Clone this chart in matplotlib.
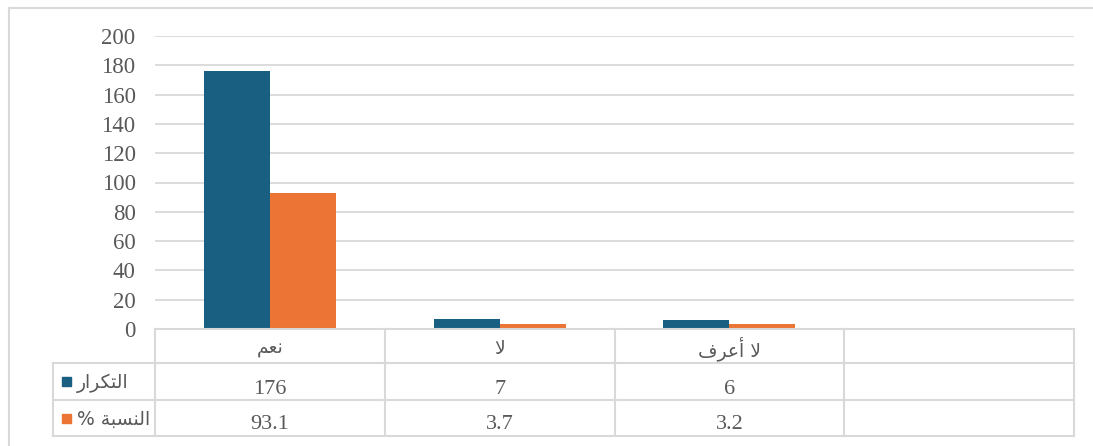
import matplotlib.pyplot as plt
from matplotlib.lines import Line2D
from matplotlib.patches import Rectangle

# categories (Arabic, written in presentation forms, visual order)
categories = ["\uFEE2\uFECC\uFEE7",                      # نعم
              "\uFEFB",                                  # لا
              "\uFED1\uFEAE\uFECB\uFE83 \uFEFB",         # لا أعرف
              ""]
freq = [176, 7, 6]
pct = [93.1, 3.7, 3.2]
freq_name = "\uFEAD\uFE8D\uFEAE\uFEDC\uFE98\uFEDF\uFE8D"   # التكرار
pct_name = "% \uFE94\uFE92\uFEB4\uFEE8\uFEDF\uFE8D"        # النسبة %
yticks = [0, 20, 40, 60, 80, 100, 120, 140, 160, 180, 200]

W, H = 1093, 446
BLUE = "#185F81"
ORANGE = "#EC7434"
GRID = "#D9D9D9"
TXT = "#595959"
SERIF = "Liberation Serif"
ARAB = "DejaVu Sans"

fig = plt.figure(figsize=(W / 100, H / 100), dpi=100)


def fx(px):
    return px / W


def fy(py):
    return 1 - py / H


left, right, top, bottom = 155, 1074, 36, 329
ax = fig.add_axes([fx(left), fy(bottom), fx(right) - fx(left), fy(top) - fy(bottom)])

n = len(categories)
bw = 66 / ((right - left) / n)
xs = list(range(len(freq)))
ax.bar([x - bw / 2 for x in xs], freq, width=bw, color=BLUE, zorder=3)
ax.bar([x + bw / 2 for x in xs], pct, width=bw, color=ORANGE, zorder=3)

ax.set_xlim(-0.5, n - 0.5)
ax.set_ylim(0, 200)
ax.set_yticks(yticks)
ax.set_yticklabels([str(v) for v in yticks], fontfamily=SERIF, fontsize=16.5, color=TXT)
ax.tick_params(axis="y", length=0, pad=14)
ax.set_xticks([])
ax.yaxis.grid(True, color=GRID, linewidth=1.3)
ax.set_axisbelow(True)
for s in ax.spines.values():
    s.set_visible(False)

# data table lines
rows = [329, 363, 400, 436]
colw = (right - left) / n
cols = [left + i * colw for i in range(n + 1)]


def hline(y, x0, x1):
    fig.add_artist(Line2D([fx(x0), fx(x1)], [fy(y), fy(y)], color=GRID, linewidth=1.5))


def vline(x, y0, y1):
    fig.add_artist(Line2D([fx(x), fx(x)], [fy(y0), fy(y1)], color=GRID, linewidth=1.5))


hline(rows[0], left, right)
for y in rows[1:]:
    hline(y, 53, right)
for x in cols:
    vline(x, rows[0], rows[-1])
vline(53, rows[1], rows[-1])

# outer chart border
hline(8, 9, W)
vline(9, 8, H)

# table text
for i, c in enumerate(categories):
    cx = fx(left + (i + 0.5) * colw)
    fig.text(cx, fy(349), c, family=ARAB, fontsize=13.5,
             color=TXT, ha="center", va="center")
for i in range(len(freq)):
    cx = fx(left + (i + 0.5) * colw)
    fig.text(cx, fy(394), str(freq[i]), family=SERIF,
             fontsize=16, color=TXT, ha="center", va="baseline")
    fig.text(cx, fy(429), str(pct[i]), family=SERIF,
             fontsize=16, color=TXT, ha="center", va="baseline")

# legend keys in the table
for cy, name, col in [(381, freq_name, BLUE), (418, pct_name, ORANGE)]:
    fig.add_artist(Rectangle((fx(62), fy(cy + 4.5)), fx(9), 9 / H, color=col))
    fig.text(fx(77), fy(cy + 2), name, family=ARAB, fontsize=13.5, color=TXT,
             ha="left", va="center")

fig.savefig("out.png", dpi=100)
